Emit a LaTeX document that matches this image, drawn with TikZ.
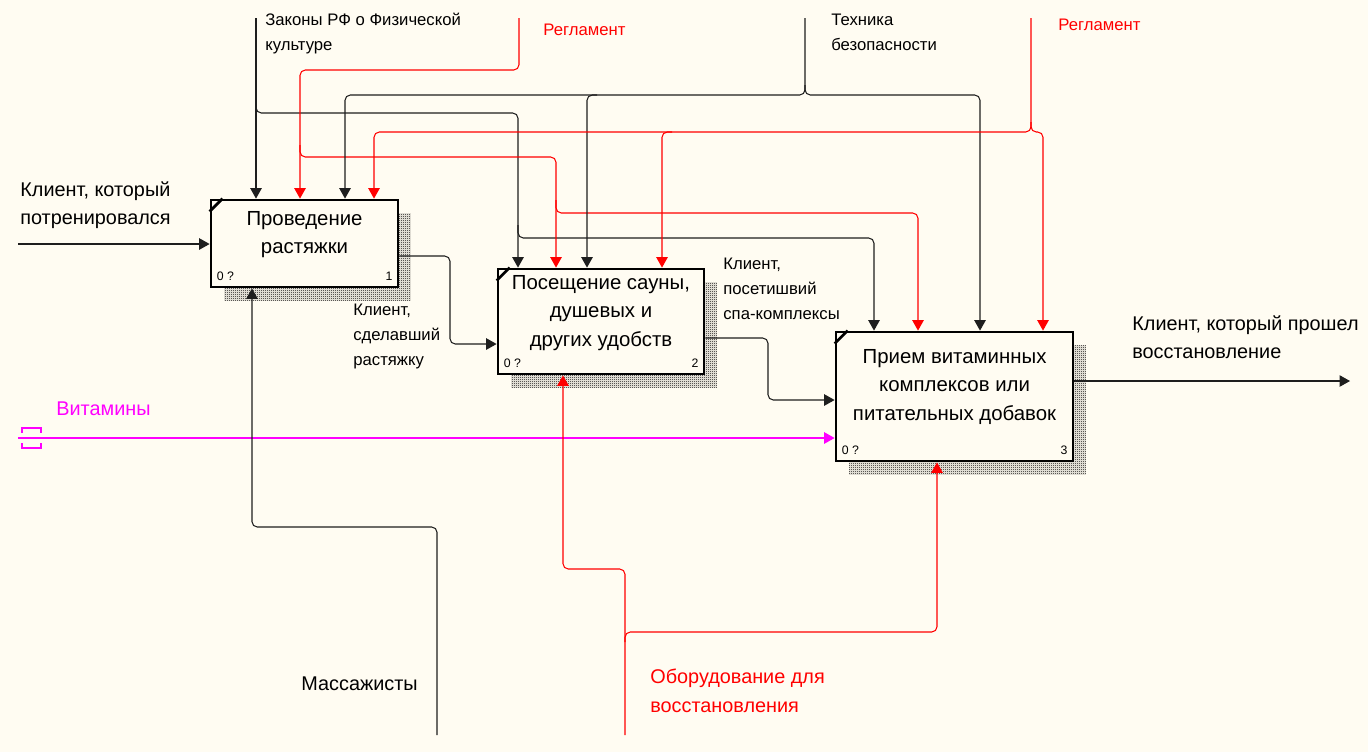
\documentclass[tikz,border=0pt]{standalone}
\usepackage{fontspec}
\setmainfont{Liberation Sans}
\usepackage{xcolor}
\usetikzlibrary{arrows.meta,positioning,calc,shadows,patterns}

\definecolor{canvas}{RGB}{255,252,242}
\definecolor{regred}{RGB}{255,0,0}
\definecolor{vitmag}{RGB}{255,0,255}
\definecolor{wire}{RGB}{30,30,30}

% fine checker used for the box shadows
\pgfdeclarepatternformonly{finecheck}{\pgfqpoint{0pt}{0pt}}{\pgfqpoint{1.2pt}{1.2pt}}{\pgfqpoint{1.2pt}{1.2pt}}{%
    \pgfpathrectangle{\pgfpointorigin}{\pgfqpoint{0.6pt}{0.6pt}}%
    \pgfpathrectangle{\pgfqpoint{0.6pt}{0.6pt}}{\pgfqpoint{0.6pt}{0.6pt}}%
    \pgfusepath{fill}}

\begin{document}
\begin{tikzpicture}[
    x=0.02cm, y=-0.02cm,
    process/.style={rectangle, draw=black, line width=1.6pt, fill=canvas, inner sep=0pt,
        general shadow={shadow xshift=0.26cm, shadow yshift=-0.26cm, pattern=finecheck, pattern color=black}},
    boxtext/.style={align=center, font=\fontsize{11.6}{16.2}\selectfont},
    numtext/.style={font=\fontsize{7}{8}\selectfont, inner sep=0pt},
    biglabel/.style={align=left, anchor=north west, inner sep=0pt, font=\fontsize{11.3}{16.2}\selectfont},
    smalllabel/.style={align=left, anchor=north west, inner sep=0pt, font=\fontsize{9.5}{14}\selectfont},
    flow/.style={draw=wire, line width=0.6pt, rounded corners=3pt},
    arrow/.style={flow, -{Triangle[length=0.21cm, width=0.23cm]}},
    ctrl/.style={draw=regred}
]
    \path[fill=canvas, use as bounding box] (0,0) rectangle (1368,752);

    % activity boxes
    \node[process, minimum width=3.74cm, minimum height=1.74cm,
        label={[boxtext, yshift=0.18cm]center:Проведение\\растяжки}] (b1) at (304.5,243.5) {};
    \node[process, minimum width=4.12cm, minimum height=2.1cm,
        label={[boxtext, yshift=0.17cm]center:Посещение сауны,\\душевых и\\других удобств}] (b2) at (601,321.5) {};
    \node[process, minimum width=4.74cm, minimum height=2.58cm,
        label={[boxtext, yshift=0.19cm]center:Прием витаминных\\комплексов или\\питательных добавок}] (b3) at (954.5,396.5) {};

    \foreach \b/\n in {b1/1,b2/2,b3/3} {
        \draw[line width=1.6pt] ([yshift=-0.26cm]\b.north west) -- ([xshift=0.26cm]\b.north west);
        \node[numtext, anchor=south west] at ([shift={(0.14cm,0.15cm)}]\b.south west) {0 ?};
        \node[numtext, anchor=south east] at ([shift={(-0.13cm,0.15cm)}]\b.south east) {\n};
    }

    % inputs
    \coordinate (trainsrc) at (18,244);
    \draw[arrow] (trainsrc) -- (trainsrc -| b1.west);
    \coordinate (vitsrc) at (18,438);
    \draw[arrow, draw=vitmag] (vitsrc) -- (vitsrc -| b3.west);
    \draw[vitmag, line width=0.6pt] (22,433) -- (22,428) -- (41,428) -- (41,433)
        (22,443) -- (22,448) -- (41,448) -- (41,443);

    % outputs
    \draw[arrow] (b1.east |- 0,256) -- (450,256) -- (450,344) -- (b2.west |- 0,344);
    \draw[arrow] (b2.east |- 0,338) -- (768,338) -- (768,400) -- (b3.west |- 0,400);
    \coordinate (outdst) at (1350,381);
    \draw[arrow] (b3.east |- outdst) -- (outdst);

    % controls
    \coordinate (lawsrc) at (256,18);
    \draw[arrow] (lawsrc) -- (lawsrc |- b1.north);
    \draw[arrow] (256,100) -- (256,113) -- (518,113) -- (518,0 |- b2.north);
    \draw[arrow] (518,225) -- (518,238) -- (874,238) -- (874,0 |- b3.north);

    \coordinate (reg1src) at (519,18);
    \draw[arrow, ctrl] (reg1src) -- (519,70) -- (300,70) -- (300,0 |- b1.north);
    \draw[arrow, ctrl] (300,145) -- (300,157) -- (556,157) -- (556,0 |- b2.north);
    \draw[arrow, ctrl] (556,200) -- (556,213) -- (918,213) -- (918,0 |- b3.north);

    \coordinate (techsrc) at (805,18);
    \draw[arrow] (techsrc) -- (805,95) -- (345,95) -- (345,0 |- b1.north);
    \draw[arrow] (805,85) -- (805,95) -- (980,95) -- (980,0 |- b3.north);
    \draw[arrow] (597,95) -- (587,95) -- (587,0 |- b2.north);

    \coordinate (reg2src) at (1031,18);
    \draw[arrow, ctrl] (reg2src) -- (1031,132) -- (374,132) -- (374,0 |- b1.north);
    \draw[arrow, ctrl] (1031,122) -- (1031,132) -- (1043,132) -- (1043,0 |- b3.north);
    \draw[arrow, ctrl] (672,132) -- (662,132) -- (662,0 |- b2.north);

    % mechanisms
    \coordinate (masssrc) at (437,735);
    \draw[arrow] (masssrc) -- (437,527) -- (252,527) -- (252,0 |- b1.south);
    \coordinate (equipsrc) at (625,735);
    \draw[arrow, ctrl] (equipsrc) -- (625,569) -- (563,569) -- (563,0 |- b2.south);
    \draw[arrow, ctrl] (625,642) -- (625,632) -- (937,632) -- (937,0 |- b3.south);

    % labels
    \node[smalllabel] (lawlbl) at (265,13) {Законы РФ о Физической\\культуре};
    \node[smalllabel, text=regred] (reg1lbl) at (543,24) {Регламент};
    \node[smalllabel] (techlbl) at (831,14) {Техника\\безопасности};
    \node[smalllabel, text=regred] (reg2lbl) at (1058,19) {Регламент};
    \node[biglabel] (trainlbl) at (20,181) {Клиент, который\\потренировался};
    \node[smalllabel] (stretchlbl) at (353,304) {Клиент,\\сделавший\\растяжку};
    \node[smalllabel] (spalbl) at (723,258) {Клиент,\\посетишвий\\спа-комплексы};
    \node[biglabel] (outlbl) at (1132,315) {Клиент, который прошел\\восстановление};
    \node[biglabel, text=vitmag] (vitlbl) at (56,401) {Витамины};
    \node[biglabel] (masslbl) at (301,676) {Массажисты};
    \node[biglabel, text=regred] (equiplbl) at (650,669) {Оборудование для\\восстановления};
\end{tikzpicture}
\end{document}
